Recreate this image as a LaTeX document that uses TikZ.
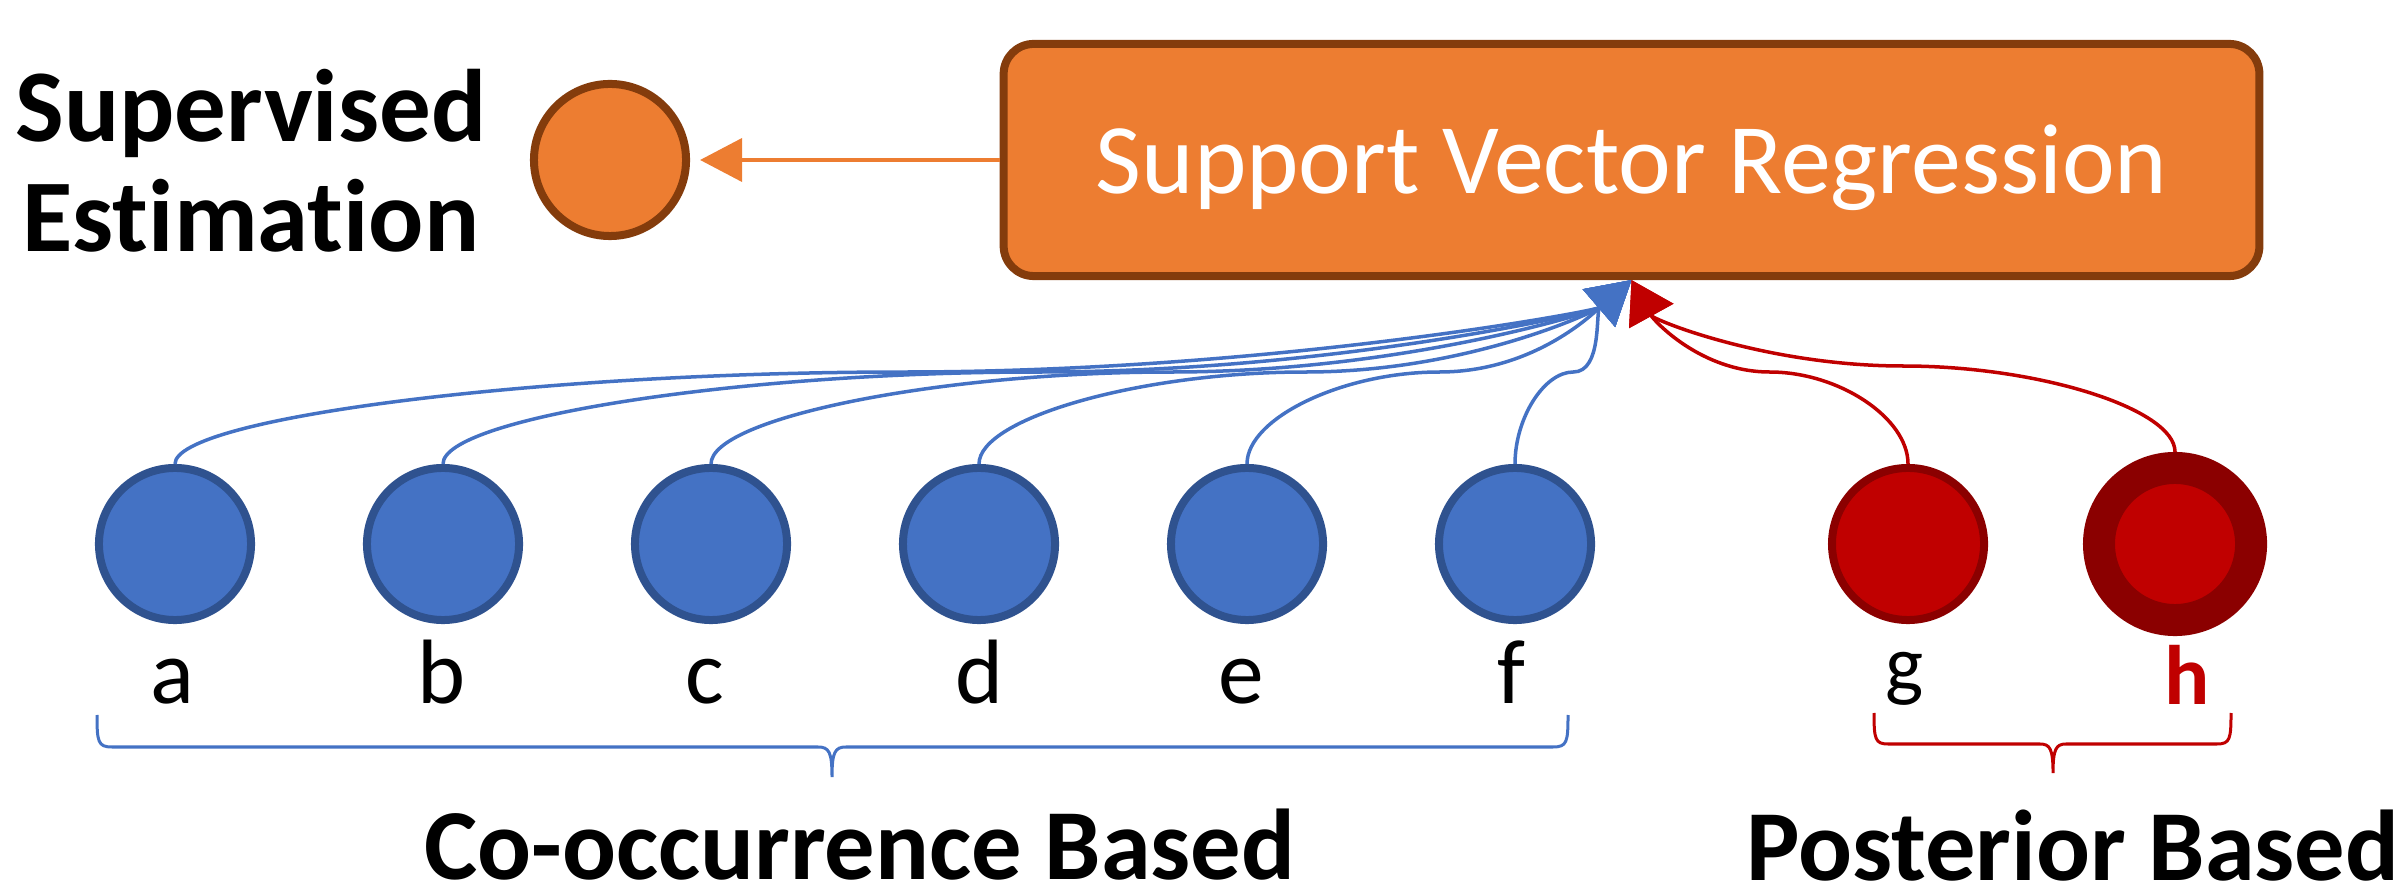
\documentclass[tikz,border=0pt]{standalone}
\usepackage{fontspec}
\setmainfont{Carlito}[Ligatures=NoCommon]
\usetikzlibrary{arrows.meta,bending,calc}
\definecolor{orf}{HTML}{ED7D31}
\definecolor{ord}{HTML}{843C0C}
\definecolor{blf}{HTML}{4472C4}
\definecolor{bld}{HTML}{2F528F}
\definecolor{rdf}{HTML}{C00000}
\definecolor{rdd}{HTML}{8B0000}
% #1 style, #2 start node, #3 end point, #4/#5 offset of the last control point
\newcommand{\feedcurve}[5]{%
  \draw[#1] let \p1=(#2.north), \p2=(#3) in
    (\p1) .. controls (\x1,{(3*\y1+\y2)/4}) and ({(3*\x1+\x2)/4},{(\y1+\y2)/2}) .. ({(\x1+\x2)/2},{(\y1+\y2)/2})
    .. controls ({(\x1+3*\x2)/4},{(\y1+\y2)/2}) and ({\x2+#4},{\y2+#5}) .. (\p2);}
\begin{document}
\begin{tikzpicture}[x=0.01cm,y=-0.01cm,
  feat/.style={circle, minimum size=1.52cm, inner sep=0pt, line width=0.08cm},
  bluenode/.style={feat, fill=blf, draw=bld},
  rednode/.style={feat, fill=rdf, draw=rdd},
  ringnode/.style={circle, minimum size=1.52cm, inner sep=0pt, line width=0.32cm, fill=rdf, draw=rdd},
  estnode/.style={feat, fill=orf, draw=ord},
  svrbox/.style={rectangle, rounded corners=0.3cm, minimum width=12.55cm, minimum height=2.32cm,
     inner sep=0pt, line width=0.08cm, fill=orf, draw=ord, text=white,
     font=\fontsize{28.4}{30}\selectfont, text height=0.66cm, text depth=0pt},
  lbl/.style={anchor=base, font=\fontsize{26}{28}\selectfont},
  title/.style={anchor=base, font=\bfseries\fontsize{28.6}{31.3}\selectfont},
  blueconn/.style={blf, line width=0.035cm, -{Triangle[length=0.43cm,width=0.49cm,quick]}},
  redconn/.style={rdf, line width=0.035cm, -{Triangle[length=0.41cm,width=0.5cm,quick]}},
  bluebrace/.style={blf, line width=0.03cm},
  redbrace/.style={rdf, line width=0.03cm}
]
\useasboundingbox (0,0) rectangle (2395,892);

% top row
\node[svrbox] (svr) at (1631.5,160) {Support Vector Regression};
\node[estnode] (est) at (610,160) {};
\node[title, align=center, font=\bfseries\fontsize{29.3}{31.3}\selectfont] (sup) at (251,252) {Supervised\\Estimation};
\draw[orf, line width=0.04cm, -{Triangle[length=0.42cm,width=0.43cm]}, shorten >=0.1cm] (svr.west) -- (est.east);

% feature nodes
\node[bluenode] (a) at (175,544) {};
\node[bluenode] (b) at (443,544) {};
\node[bluenode] (c) at (711,544) {};
\node[bluenode] (d) at (979,544) {};
\node[bluenode] (e) at (1247,544) {};
\node[bluenode] (f) at (1515,544) {};
\node[rednode] (g) at (1908,544) {};
\node[ringnode] (h) at (2175,544) {};

% labels
\node[lbl] (la) at (172,703) {a};
\node[lbl] (lb) at (442,703) {b};
\node[lbl] (lc) at (705,703) {c};
\node[lbl] (ld) at (980,703) {d};
\node[lbl] (le) at (1241,703) {e};
\node[lbl] (lf) at (1511,703) {f};
\node[lbl, font=\fontsize{23}{25}\selectfont] (lg) at (1905,692) {g};
\node[lbl, font=\bfseries\fontsize{24}{26}\selectfont, text=rdf] (lh) at (2187,705) {h};

% connectors
\foreach \nm in {a,b,c,d,e,f} {\feedcurve{blueconn}{\nm}{svr.south}{-0.36cm}{-0.31cm}}
\foreach \nm in {g,h} {\feedcurve{redconn}{\nm}{svr.south}{0.22cm}{-0.40cm}}

% braces
\draw[bluebrace] (97,715) .. controls (97,742) and (98,747) .. (112,747) -- (818,747)
  .. controls (829,747) and (832,752) .. (832,777)
  .. controls (832,752) and (835,747) .. (846,747) -- (1553,747)
  .. controls (1567,747) and (1568,742) .. (1568,715);
\draw[redbrace] (1874,713) .. controls (1874,739) and (1875,744) .. (1888,744) -- (2040,744)
  .. controls (2050,744) and (2053,749) .. (2053,773)
  .. controls (2053,749) and (2056,744) .. (2066,744) -- (2217,744)
  .. controls (2230,744) and (2231,739) .. (2231,713);

% group titles
\node[title] (cob) at (860,879) {Co-occurrence Based};
\node[title] (pb) at (2073,880) {Posterior Based};
\end{tikzpicture}
\end{document}
